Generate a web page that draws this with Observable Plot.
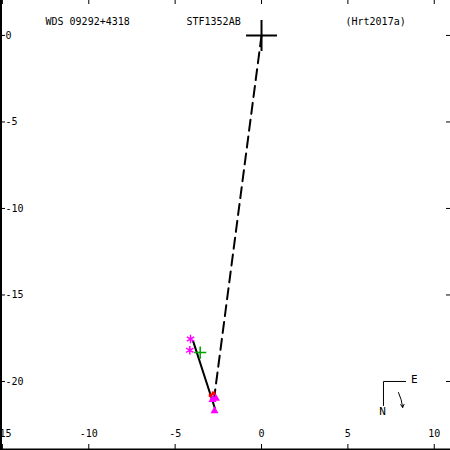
<!DOCTYPE html>
<html>
<head>
<meta charset="utf-8">
<script src="https://cdn.jsdelivr.net/npm/d3@7"></script>
<script src="https://cdn.jsdelivr.net/npm/@observablehq/plot@0.6"></script>
<style>
  html, body { margin: 0; padding: 0; background: #fff; }
  #chart { width: 450px; height: 450px; overflow: hidden; }
</style>
</head>
<body>
<div id="chart"></div>
<script>
// ---- data (arcseconds, x = East offset, y = North offset) ----
const xTicks = [-15, -10, -5, 0, 5, 10];
const yTicks = [0, -5, -10, -15, -20];
const titles = ["WDS 09292+4318", "STF1352AB", "(Hrt2017a)"];

const primaryX = [0];
const primaryY = [0];

// dashed line: primary to first measure
const dashX = [0, -2.76];
const dashY = [0, -21.1];

// solid line: linear fit through measures
const fitX = [-3.96, -2.7];
const fitY = [-17.67, -21.55];

// measures by technique
const astX = [-4.11, -4.15];
const astY = [-17.55, -18.2];
const greenX = [-3.55];
const greenY = [-18.33];
const redX = [-2.95, -2.78];
const redY = [-20.8, -20.68];
const triX = [-2.84, -2.64, -2.72];
const triY = [-21.05, -20.98, -21.7];

// compass (N/E orientation) and motion arrow
const compassX = [8.34, 7.06, 7.06];
const compassY = [-20.0, -20.0, -21.39];
const compassLabels = ["E", "N"];
const compassLabelX = [8.85, 7.0];
const compassLabelY = [-19.88, -21.73];
const motionX = [7.93, 8.17];
const motionY = [-20.64, -21.5];

const xDomain = [-15.11, 10.94];
const yDomain = [-23.99, 2.02];

const font = "DejaVu Sans Mono";
const pts = (xs, ys) => xs.map((x, i) => ({x, y: ys[i]}));

const chart = Plot.plot({
  width: 450,
  height: 450,
  margin: 0,
  x: {domain: xDomain, axis: null},
  y: {domain: yDomain, axis: null},
  style: {background: "#fff", fontFamily: font, fontSize: "10px"},
  marks: [
    // frame: left and bottom lines
    Plot.ruleX([xDomain[0]], {stroke: "black", strokeWidth: 2, dx: 0.5}),
    Plot.ruleY([yDomain[0]], {stroke: "black", strokeWidth: 2, dy: -1}),
    // ticks
    Plot.ruleX(xTicks, {stroke: "black", insetTop: 444}),
    Plot.ruleX(xTicks, {stroke: "black", insetBottom: 446}),
    Plot.ruleY(yTicks, {stroke: "black", insetRight: 445}),
    Plot.ruleY(yTicks, {stroke: "black", insetLeft: 446}),
    // tick labels
    Plot.text(xTicks, {x: d => d, frameAnchor: "bottom", dy: -14, text: d => String(d), fill: "black", fontFamily: font, fontSize: 10}),
    Plot.text(yTicks, {y: d => d, frameAnchor: "left", dx: 5, textAnchor: "start", text: d => String(d), fill: "black", fontFamily: font, fontSize: 10}),
    // titles
    Plot.text([titles[0]], {frameAnchor: "top-left", dx: 45, dy: 17, textAnchor: "start", fill: "black", fontFamily: font, fontSize: 10}),
    Plot.text([titles[1]], {frameAnchor: "top-left", dx: 186, dy: 17, textAnchor: "start", fill: "black", fontFamily: font, fontSize: 10}),
    Plot.text([titles[2]], {frameAnchor: "top-left", dx: 345, dy: 17, textAnchor: "start", fill: "black", fontFamily: font, fontSize: 10}),
    // dashed line and fit
    Plot.line(pts(dashX, dashY), {x: "x", y: "y", stroke: "black", strokeWidth: 2, strokeDasharray: "11,6"}),
    Plot.line(pts(fitX, fitY), {x: "x", y: "y", stroke: "black", strokeWidth: 2}),
    // measures
    Plot.dot(pts(redX, redY), {x: "x", y: "y", symbol: "square", r: 2, fill: "red"}),
    Plot.dot(pts(triX, triY), {x: "x", y: "y", symbol: "triangle", r: 3, fill: "magenta"}),
    Plot.dot(pts(astX, astY), {x: "x", y: "y", symbol: "asterisk", r: 4, stroke: "magenta", strokeWidth: 1.5}),
    Plot.dot(pts(greenX, greenY), {x: "x", y: "y", symbol: "plus", r: 4, stroke: "#00a000", strokeWidth: 1.5}),
    // primary
    Plot.dot(pts(primaryX, primaryY), {x: "x", y: "y", symbol: "plus", r: 10, stroke: "black", strokeWidth: 2}),
    // compass
    Plot.line(pts(compassX, compassY), {x: "x", y: "y", stroke: "black", strokeWidth: 1}),
    Plot.text(compassLabels.map((t, i) => ({t, x: compassLabelX[i], y: compassLabelY[i]})), {x: "x", y: "y", text: "t", fill: "black", fontFamily: font, fontSize: 11}),
    Plot.arrow([{x1: motionX[0], y1: motionY[0], x2: motionX[1], y2: motionY[1]}], {x1: "x1", y1: "y1", x2: "x2", y2: "y2", stroke: "black", strokeWidth: 1, headLength: 5, bend: 10})
  ]
});
document.getElementById("chart").append(chart);
</script>
</body>
</html>
